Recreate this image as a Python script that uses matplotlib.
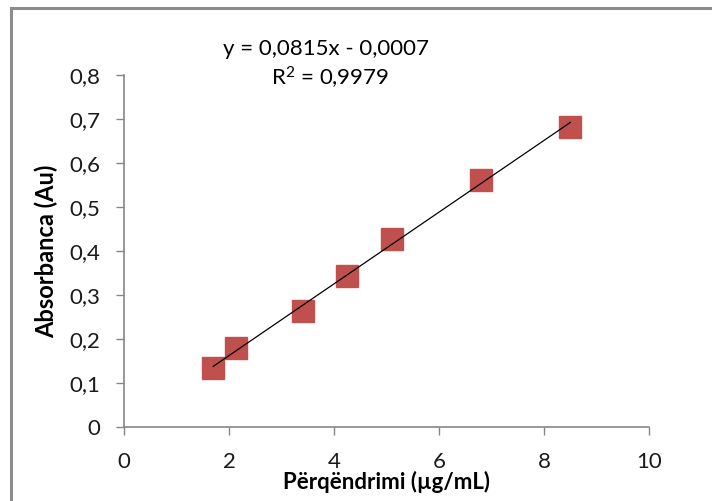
import numpy as np
import matplotlib
matplotlib.use("Agg")
import matplotlib.pyplot as plt
from matplotlib.patches import Rectangle
from matplotlib.ticker import FuncFormatter

plt.rcParams['font.family'] = ['Lato', 'DejaVu Sans']
plt.rcParams['mathtext.fontset'] = 'custom'
plt.rcParams['mathtext.rm'] = 'Lato'
plt.rcParams['mathtext.default'] = 'rm'

# te dhenat (perqendrimi, absorbanca)
konc = [1.7, 2.125, 3.4, 4.25, 5.1, 6.8, 8.5]
abs_vals = [0.134, 0.180, 0.264, 0.343, 0.427, 0.561, 0.682]
slope = 0.0815
intercept = -0.0007
r2 = 0.9979

x_ticks = [0, 2, 4, 6, 8, 10]
y_ticks = [0, 0.1, 0.2, 0.3, 0.4, 0.5, 0.6, 0.7, 0.8]

fig = plt.figure(figsize=(7.12, 5.01), dpi=100)
ax = fig.add_axes([124/712, 1 - 427/501, 525/712, 352/501])

# korniza gri e grafikut
fig.patches.append(Rectangle((11/712, -0.2), 1.2, 1.2 - 8/501, transform=fig.transFigure,
                             fill=False, edgecolor='#8c8c8c', linewidth=2.2, zorder=0))

ax.plot(konc, abs_vals, 's', color='#C0504D', markeredgecolor='#C0504D',
        markersize=15.5, zorder=3, clip_on=False)
xl = np.array([min(konc), max(konc)])
ax.plot(xl, slope * xl + intercept, color='black', linewidth=0.9, zorder=4)

ax.set_xlim(0, 10)
ax.set_ylim(0, 0.8)
ax.set_xticks(x_ticks)
ax.set_yticks(y_ticks)
fmt = FuncFormatter(lambda v, p: ('%g' % round(v, 2)).replace('.', ','))
ax.xaxis.set_major_formatter(fmt)
ax.yaxis.set_major_formatter(fmt)

for s in ['top', 'right']:
    ax.spines[s].set_visible(False)
for s in ['left', 'bottom']:
    ax.spines[s].set_color('#868686')
    ax.spines[s].set_linewidth(1.2)
ax.tick_params(axis='both', direction='out', length=6, width=1, color='#868686',
               labelsize=16, labelcolor='#1a1a1a')
ax.tick_params(axis='y', pad=11)
ax.tick_params(axis='x', pad=12)

ax.set_xlabel('Përqëndrimi (µg/mL)', fontsize=16, fontweight='bold', labelpad=-1)
ax.set_ylabel('Absorbanca (Au)', fontsize=17, fontweight='bold', labelpad=8)

fig.text(326/712, 1 - 49/501, 'y = 0,0815x - 0,0007', fontsize=16, ha='center', va='center')
fig.text(330/712, 1 - 78/501, 'R$^2$ = ' + ('%.4f' % r2).replace('.', ','),
         fontsize=16, ha='center', va='center')

fig.savefig('out.png', dpi=100)
